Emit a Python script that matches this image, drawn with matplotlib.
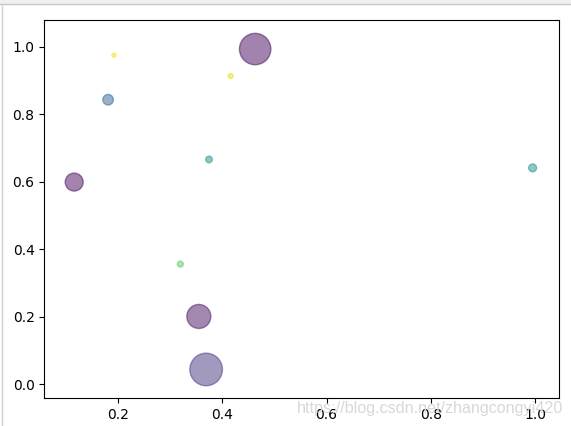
import matplotlib.pyplot as plt
from matplotlib.lines import Line2D
from matplotlib.patches import Rectangle

# 散点数据
x = [0.463, 0.192, 0.416, 0.181, 0.3745, 0.116, 0.3195, 0.355, 0.369, 0.995]
y = [0.993, 0.975, 0.913, 0.843, 0.666, 0.599, 0.356, 0.201, 0.044, 0.641]
colors = [0.02, 0.98, 0.95, 0.32, 0.5, 0.03, 0.75, 0.04, 0.15, 0.5]
area = [511, 9, 13, 58, 23, 168, 19, 299, 551, 33]

fig = plt.figure(figsize=(5.71, 4.26), dpi=100)
ax = fig.add_axes([0.0776, 0.0657, 0.9014, 0.8873])

ax.scatter(x, y, s=area, c=colors, cmap='viridis', vmin=0, vmax=1, alpha=0.5)

ax.set_xlim(0.0587, 1.0456)
ax.set_ylim(-0.0406, 1.079)
ax.set_xticks([0.2, 0.4, 0.6, 0.8, 1.0])
ax.set_yticks([0.0, 0.2, 0.4, 0.6, 0.8, 1.0])

# 截图边框
fig.add_artist(Rectangle((0, 1 - 4 / 426), 1, 4 / 426, transform=fig.transFigure,
                         color='#f0f0f0', zorder=-1))
fig.add_artist(Line2D([0, 1], [1 - 3.5 / 426] * 2, transform=fig.transFigure,
                      color='#c8c8c8', lw=1))
fig.add_artist(Line2D([1.5 / 571] * 2, [0, 1 - 3.5 / 426], transform=fig.transFigure,
                      color='#d0d0d0', lw=1))

# 水印（原图中就压在刻度文字上）
fig.text(430 / 571, 1 - 408 / 426, 'https://blog.csdn.net/zhangcongyi420',
         ha='center', va='center', fontsize=11.6, color='#d8d8d8',
         family='Liberation Sans', zorder=5)

plt.savefig('out.png', dpi=100)
